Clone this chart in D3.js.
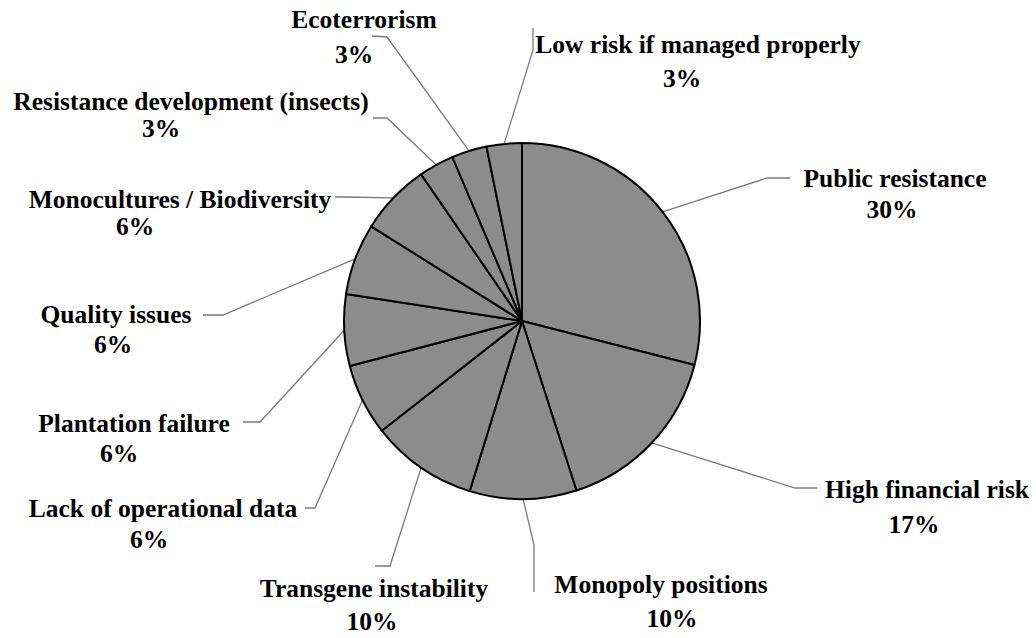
<!DOCTYPE html>
<html>
<head>
<meta charset="utf-8">
<script src="https://cdn.jsdelivr.net/npm/d3@7"></script>
</head>
<body style="margin:0">
<svg id="chart" width="1036" height="638"></svg>
<script>
// categories, clockwise from 12 o'clock
var categories = [
    "Public resistance", "High financial risk", "Monopoly positions", "Transgene instability",
    "Lack of operational data", "Plantation failure", "Quality issues", "Monocultures / Biodiversity",
    "Resistance development (insects)", "Ecoterrorism", "Low risk if managed properly"
];
// slice shares (%)
var shares = [29.0, 16.1, 9.7, 9.7, 6.5, 6.5, 6.5, 6.5, 3.2, 3.2, 3.2];
// percentage labels printed on the chart
var pctLabels = ["30%", "17%", "10%", "10%", "6%", "6%", "6%", "6%", "3%", "3%", "3%"];

// label layout: [x line1, baseline line1, x line2, baseline line2]
var labelPos = [
    [895, 187, 892, 218], [927, 498, 914, 533], [661, 593, 672, 627], [374, 597, 372, 630],
    [163, 517, 149, 548], [134, 432, 119, 462], [116, 323, 113, 353], [180, 208, 135, 235],
    [191, 110, 161, 137], [364, 28, 354, 63], [698, 53, 682, 87]
];
// leader line bends: [elbow, end near label]
var leaderPts = [
    [[767, 178], [790, 178]], [[795, 488], [817, 488]], [[534, 545], [534, 592]], [[390, 566], [375, 566]],
    [[315, 508], [305, 508]], [[260, 422], [243, 422]], [[223, 315], [203, 315]], [[345, 197], [335, 197]],
    [[387, 118], [373, 118]], [[387, 37], [372, 36]], [[533, 50], [533, 28]]
];

var cx = 522, cy = 321, R = 178;

var svg = d3.select("#chart");

var pie = d3.pie().sort(null).value(function (d) { return d; });
var arcs = pie(shares);
var arc = d3.arc().innerRadius(0).outerRadius(R);
var edge = d3.arc().innerRadius(R).outerRadius(R);

// leader lines
var line = d3.line();
svg.append("g").selectAll("path").data(arcs).enter().append("path")
    .attr("d", function (d, i) {
        var p = edge.centroid(d);
        return line([[cx + p[0], cy + p[1]]].concat(leaderPts[i]));
    })
    .attr("fill", "none").attr("stroke", "#7a7a7a").attr("stroke-width", 1.3);

// slices
svg.append("g").attr("transform", "translate(" + cx + "," + cy + ")")
    .selectAll("path").data(arcs).enter().append("path")
    .attr("d", arc)
    .attr("fill", "#8c8c8c")
    .attr("stroke", "#000").attr("stroke-width", 2).attr("stroke-linejoin", "round");

// labels
var lg = svg.append("g");
function label(x, y, s) {
    return lg.append("text").attr("x", x).attr("y", y).attr("text-anchor", "middle")
        .style("font-family", "Liberation Serif").style("font-weight", "bold").style("font-size", "25.5px")
        .text(s);
}
categories.forEach(function (c, i) {
    var p = labelPos[i];
    label(p[0], p[1], c);
    label(p[2], p[3], pctLabels[i]);
});
</script>
</body>
</html>
